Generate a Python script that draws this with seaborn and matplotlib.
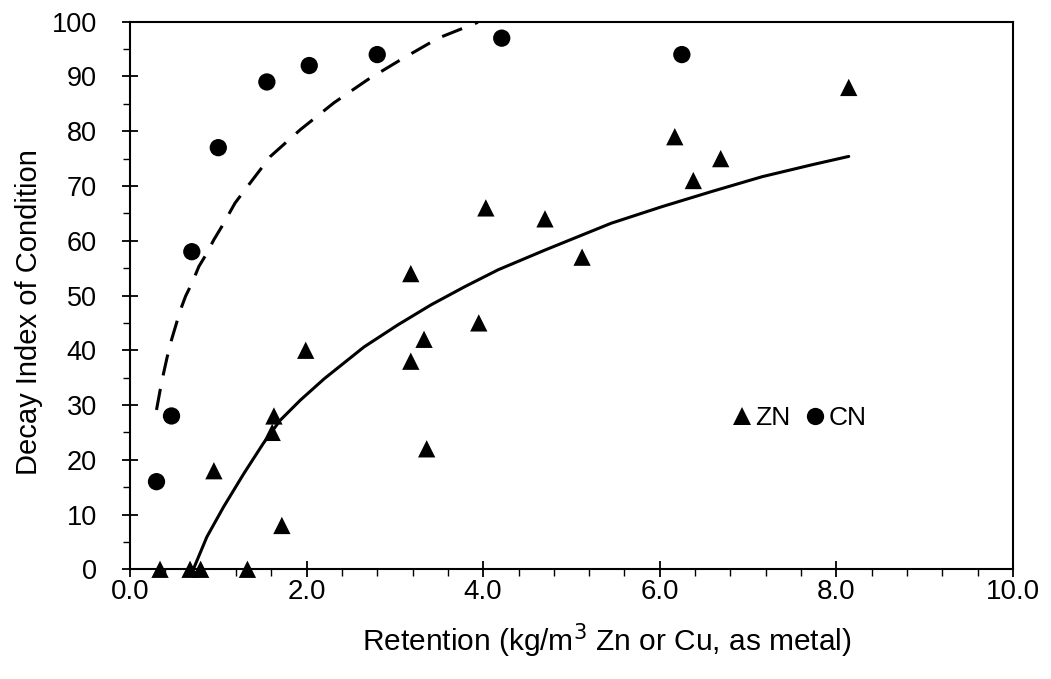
import numpy as np
import pandas as pd
import seaborn as sns
import matplotlib
matplotlib.use("Agg")
import matplotlib.pyplot as plt
from matplotlib.ticker import MultipleLocator, FormatStrFormatter

# data
zn_x = [0.34, 0.68, 0.80, 1.33, 0.95, 1.72, 1.63, 1.61, 1.99, 3.18, 3.18,
        3.33, 3.36, 3.95, 4.03, 4.70, 5.12, 6.17, 6.38, 6.69, 8.14]
zn_y = [0, 0, 0, 0, 18, 8, 28, 25, 40, 54, 38,
        42, 22, 45, 66, 64, 57, 79, 71, 75, 88]

cn_x = [0.30, 0.47, 0.70, 1.00, 1.55, 2.03, 2.80, 4.21, 6.25]
cn_y = [16, 28, 58, 77, 89, 92, 94, 97, 94]

# trend lines
fit_zn_x = [0.72, 0.87, 1.06, 1.29, 1.51, 1.70, 1.93, 2.20, 2.65, 3.03, 3.41,
            3.79, 4.17, 4.70, 5.45, 6.02, 6.59, 7.16, 7.73, 8.14]
fit_zn_y = [0.1, 5.9, 11.4, 17.5, 23.0, 27.2, 30.9, 34.8, 40.6, 44.6, 48.3,
            51.6, 54.7, 58.3, 63.2, 66.2, 69.0, 71.7, 73.9, 75.4]

fit_cn_x = [0.30, 0.34, 0.38, 0.42, 0.47, 0.52, 0.57, 0.63, 0.70, 0.78, 0.87,
            0.95, 1.04, 1.19, 1.33, 1.59, 1.93, 2.31, 2.69, 3.07, 3.49, 3.94]
fit_cn_y = [29.1, 32.6, 35.8, 38.7, 41.9, 44.6, 47.3, 49.9, 52.2, 55.3, 57.7,
            60.2, 62.6, 66.9, 69.9, 75.4, 80.3, 85.2, 89.4, 93.1, 97.0, 99.9]

df = pd.DataFrame({
    "x": zn_x + cn_x,
    "y": zn_y + cn_y,
    "series": ["ZN"] * len(zn_x) + ["CN"] * len(cn_x),
})

sns.set_style("white")
plt.rcParams["font.family"] = ["Liberation Sans", "DejaVu Sans"]
plt.rcParams["text.color"] = "black"
plt.rcParams["axes.labelcolor"] = "black"
plt.rcParams["xtick.color"] = "black"
plt.rcParams["ytick.color"] = "black"

fig, ax = plt.subplots(figsize=(10.51, 6.79), dpi=100)
fig.subplots_adjust(left=0.1237, right=0.9638, top=0.968, bottom=0.1616)

# fitted curves
sns.lineplot(x=fit_cn_x, y=fit_cn_y, ax=ax, color="black", lw=2.2,
             linestyle=(0, (7, 4.5)), legend=False)
sns.lineplot(x=fit_zn_x, y=fit_zn_y, ax=ax, color="black", lw=2.2, legend=False)

# points
sns.scatterplot(data=df, x="x", y="y", style="series",
                markers={"ZN": "^", "CN": "o"}, color="black",
                s=155, linewidth=0, clip_on=False, zorder=3, ax=ax)

sns.move_legend(ax, loc="center", bbox_to_anchor=(0.757, 0.276), ncol=2,
                frameon=False, title=None, fontsize=19, handletextpad=0.05,
                columnspacing=0.5, handlelength=0.9)

ax.set_xlim(0, 10)
ax.set_ylim(0, 100)
ax.xaxis.set_major_locator(MultipleLocator(2))
ax.xaxis.set_minor_locator(MultipleLocator(0.4))
ax.xaxis.set_major_formatter(FormatStrFormatter("%.1f"))
ax.yaxis.set_major_locator(MultipleLocator(10))
ax.yaxis.set_minor_locator(MultipleLocator(5))

ax.tick_params(which="major", direction="inout", length=12, width=1.3,
               color="black", bottom=True, left=True)
ax.tick_params(which="minor", direction="out", length=5, width=1.0,
               color="black", bottom=True, left=True)
ax.tick_params(axis="x", labelsize=20, pad=1)
ax.tick_params(axis="y", labelsize=19.5, pad=18)

for sp in ax.spines.values():
    sp.set_color("black")
    sp.set_linewidth(1.5)

ax.set_xlabel("Retention (kg/m$^3$ Zn or Cu, as metal)", fontsize=21.5, labelpad=12)
ax.set_ylabel("Decay Index of Condition", fontsize=21, labelpad=6)
ax.xaxis.label.set_x(0.54)
ax.yaxis.label.set_y(0.47)

fig.savefig("out.png", dpi=100)
